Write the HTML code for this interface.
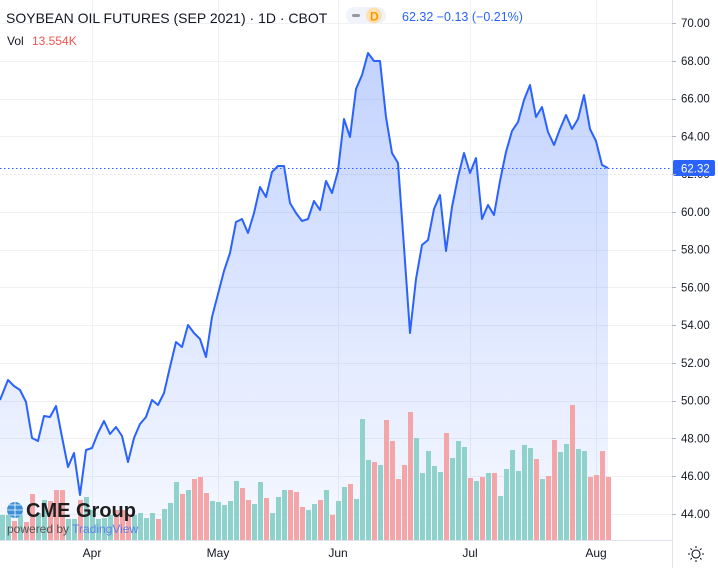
<!DOCTYPE html>
<html><head><meta charset="utf-8"><style>
body{margin:0;background:#fff;width:718px;height:568px;overflow:hidden;font-family:"Liberation Sans",sans-serif}
svg text{font-family:"Liberation Sans",sans-serif}
</style></head><body>
<svg id="s" width="718" height="568" xmlns="http://www.w3.org/2000/svg">
<defs><linearGradient id="g" x1="0" y1="0" x2="0" y2="1"><stop offset="0" stop-color="#2962ff" stop-opacity="0.28"/><stop offset="1" stop-color="#2962ff" stop-opacity="0.04"/></linearGradient></defs>
<g id="grid" stroke="#f0f1f3" stroke-width="1"></g>
<path id="fill" fill="url(#g)"/>
<g id="bars"></g>
<path id="line" fill="none" stroke="#2962ff" stroke-width="2" stroke-linejoin="round"/>
<line x1="0" y1="168.5" x2="672" y2="168.5" stroke="#2962ff" stroke-width="1" stroke-dasharray="1.5,2.5"/>
<line x1="672.5" y1="0" x2="672.5" y2="568" stroke="#e0e3eb"/>
<line x1="0" y1="540.5" x2="672" y2="540.5" stroke="#e0e3eb"/>
<g id="ylab" font-size="11.5" fill="#131722"></g>
<rect x="673" y="160" width="42" height="16" rx="2" fill="#2962ff"/>
<text x="681" y="172.5" font-size="11.5" fill="#fff">62.32</text>
<g font-size="12" fill="#131722" text-anchor="middle">
<text x="92" y="557">Apr</text><text x="218" y="557">May</text><text x="338" y="557">Jun</text><text x="470" y="557">Jul</text><text x="596" y="557">Aug</text>
</g>
<g stroke="#131722" fill="none" stroke-width="1.1"><circle cx="696" cy="554" r="4"/><path d="M696 546v2M696 560v2M688 554h2M702 554h2M690.5 548.5l1.4 1.4M700.1 558.1l1.4 1.4M690.5 559.5l1.4-1.4M700.1 549.9l1.4-1.4"/></g>
<text x="6" y="23" font-size="14" fill="#131722">SOYBEAN OIL FUTURES (SEP 2021) · 1D · CBOT</text>
<rect x="346" y="7" width="40" height="17" rx="8.5" fill="#f0f3fa"/>
<rect x="352" y="14" width="8" height="3" rx="1.5" fill="#9598a1"/>
<circle cx="374" cy="15.5" r="8" fill="#ffe0b2"/>
<text x="370" y="20.5" font-size="12" fill="#ff9800" font-weight="bold">D</text>
<text x="402" y="21" font-size="12.5" fill="#2962ff">62.32 −0.13 (−0.21%)</text>
<text x="7" y="45" font-size="12" fill="#131722">Vol</text>
<text x="32" y="45" font-size="12" fill="#ef5350">13.554K</text>
<circle cx="15" cy="510" r="8" fill="#3a8fd6"/>
<path d="M7 510h16M15 502v16M9 505h12M9 515h12" stroke="#fff" stroke-width="0.8" fill="none"/>
<text x="26" y="517" font-size="20" fill="#1e1e1e" font-weight="600">CME Group</text>
<text x="7" y="533" font-size="12" fill="#555">powered by <tspan fill="#5b7fe8">TradingView</tspan></text>
</svg>
<script>
var ns="http://www.w3.org/2000/svg",s=document.getElementById('s');
function el(t,a,p){var e=document.createElementNS(ns,t);for(var k in a)e.setAttribute(k,a[k]);p.appendChild(e);return e;}
var grid=document.getElementById('grid'),yl=document.getElementById('ylab');
for(var i=0;i<14;i++){var y=23+37.77*i;if(y>540)break;el('line',{x1:0,x2:672,y1:Math.round(y)+.5,y2:Math.round(y)+.5},grid);
var t=el('text',{x:681,y:y+4},yl);t.textContent=(70-2*i).toFixed(2);el('line',{x1:672,x2:676,y1:Math.round(y)+.5,y2:Math.round(y)+.5,stroke:'#b2b5be'},s);}
[92,218,338,470,596].forEach(function(x){el('line',{x1:x+.5,x2:x+.5,y1:0,y2:540},grid);});
var P=[[0,400],[8,380],[14,386],[20,390],[26,402],[32,438],[38,441],[44,416],[50,417],[56,406],[62,437],[68,467],[74,453],[80,495],[86,450],[92,448],[98,433],[104,421],[110,434],[116,427],[122,436],[128,462],[134,438],[140,424],[146,417],[152,400],[158,405],[164,393],[170,367],[176,342],[182,347],[188,325],[194,333],[200,339],[206,357],[212,317],[218,294],[224,271],[230,253],[236,222],[242,219],[248,233],[254,213],[260,187],[266,197],[272,172],[278,166],[284,166],[290,203],[296,213],[302,221],[308,219],[314,201],[320,210],[326,181],[332,193],[338,171],[344,119],[350,137],[356,89],[362,75],[368,53],[374,61],[380,61],[386,117],[392,153],[398,163],[404,247],[410,333],[416,279],[422,245],[428,240],[434,209],[440,195],[446,251],[452,207],[458,177],[464,153],[470,173],[476,158],[482,219],[488,205],[494,215],[500,181],[506,152],[512,131],[518,122],[524,100],[530,85],[536,117],[542,107],[548,132],[554,145],[560,129],[566,115],[572,129],[578,119],[584,95],[590,129],[596,141],[602,165],[608,168]];
var d='M'+P.map(function(p){return p[0]+' '+p[1]}).join('L');
document.getElementById('line').setAttribute('d',d);
document.getElementById('fill').setAttribute('d',d+'L608 540L0 540Z');
var V="t515 t515 r521 t515 r522 r494 t513 t500 r501 r490 r490 t519 t519 r500 t497 t510 t519 t518 t515 r510 r510 r514 t515 t513 t518 t513 r519 t509 t503 t482 r494 t490 r479 r477 r493 t501 t502 t505 t501 t481 r488 r500 t504 t482 r498 t513 t497 t490 r490 r492 r507 t510 t504 r500 t490 r515 t501 t487 r484 t499 t419 t460 r462 t465 r420 r441 r479 r465 r412 t438 t473 t451 t466 t472 r433 t458 t441 t447 r478 t481 r477 t473 r473 t496 t469 t450 t471 t445 t448 r459 t479 r476 r440 t452 t444 r405 t449 t451 r477 r475 r451 r477".split(' ');
var b=document.getElementById('bars');
V.forEach(function(v,k){var y=+v.slice(1);el('rect',{x:6*k,y:y,width:5,height:540-y,fill:v[0]=='t'?'#8fd2cc':'#f3a5a7'},b);});
</script>
</body></html>
